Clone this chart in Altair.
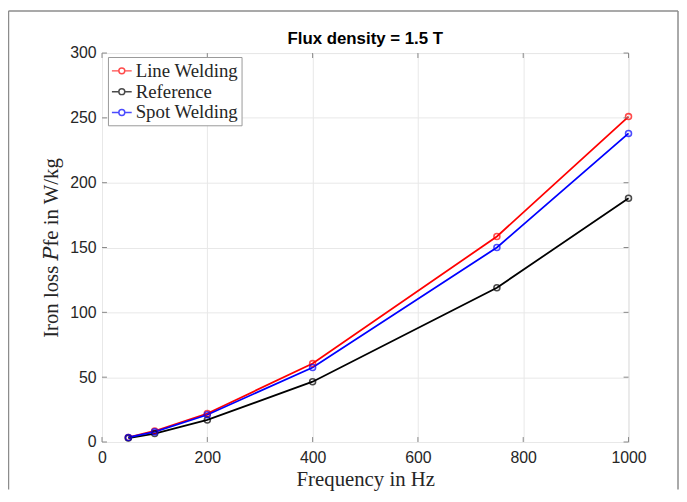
import altair as alt
import pandas as pd

freq = [50, 100, 200, 400, 750, 1000]
line_welding = [3.5, 8.5, 22, 60.5, 158.5, 251]
reference = [3, 6.5, 17, 46.5, 119, 188]
spot_welding = [3.5, 7.8, 21, 57.5, 150, 238]

series_names = ["Line Welding", "Reference", "Spot Welding"]
series_colors = ["#ff0000", "#000000", "#0000ff"]

x_ticks = [0, 200, 400, 600, 800, 1000]
y_ticks = [0, 50, 100, 150, 200, 250, 300]

title_text = ["Flux density = 1.5 T"]

rows = []
for name, vals in zip(series_names, [line_welding, reference, spot_welding]):
    for f, v in zip(freq, vals):
        rows.append({"f": f, "p": v, "s": name})
df = pd.DataFrame(rows)

W, H = 532, 393
SERIF = "Liberation Serif, DejaVu Serif, serif"
SANS = "Liberation Sans"
AXC = "#888888"
TXT = "#262626"

xs = alt.Scale(domain=[0, 1000], nice=False)
ys = alt.Scale(domain=[0, 300], nice=False)

legend = alt.Legend(
    title=None, orient="none", legendX=6, legendY=4,
    symbolType="M-1,0L-0.3,0M0.3,0L1,0M-0.3,0A0.3,0.3 0 1 1 0.3,0A0.3,0.3 0 1 1 -0.3,0",
    symbolSize=400, symbolStrokeWidth=1.5, symbolFillColor="transparent",
    labelFont=SERIF, labelFontSize=19, labelColor=TXT, labelLimit=300,
    strokeColor="#999999", fillColor="white", padding=3, rowPadding=0,
    symbolOffset=0, labelOffset=3,
)
color = alt.Color("s:N", scale=alt.Scale(domain=series_names, range=series_colors), legend=legend)

base = alt.Chart(df)

x_axis = alt.Axis(values=x_ticks, grid=True, gridColor="#e8e8e8", ticks=False,
                  domain=False, labelFont=SANS, labelFontSize=16, labelColor=TXT,
                  labelPadding=8, format="d", title="Frequency in Hz", titleFont=SERIF,
                  titleFontSize=21, titleFontWeight="normal", titleColor=TXT,
                  titlePadding=3, labelFlush=False)
y_axis = alt.Axis(values=y_ticks, grid=True, gridColor="#e8e8e8", ticks=False,
                  domain=False, labelFont=SANS, labelFontSize=16, labelColor=TXT,
                  labelPadding=6, format="d", title="Iron loss 𝑃fe in W/kg", titleFont=SERIF,
                  titleFontSize=21, titleFontWeight="normal", titleColor=TXT,
                  titlePadding=8, labelFlush=False)

lines = base.mark_line(strokeWidth=1.8).encode(
    x=alt.X("f:Q", scale=xs, axis=x_axis),
    y=alt.Y("p:Q", scale=ys, axis=y_axis),
    color=color,
)
points = base.mark_point(shape="circle", filled=False, size=36, strokeWidth=1.6).encode(
    x=alt.X("f:Q", scale=xs),
    y=alt.Y("p:Q", scale=ys),
    color=color,
)

xt = pd.DataFrame({"t": x_ticks})
yt = pd.DataFrame({"t": y_ticks})
tick_b = alt.Chart(xt).mark_rule(color=AXC, strokeWidth=1).encode(
    x=alt.X("t:Q", scale=xs), y=alt.value(H), y2=alt.value(H - 5))
tick_t = alt.Chart(xt).mark_rule(color=AXC, strokeWidth=1).encode(
    x=alt.X("t:Q", scale=xs), y=alt.value(0), y2=alt.value(5))
tick_l = alt.Chart(yt).mark_rule(color=AXC, strokeWidth=1).encode(
    y=alt.Y("t:Q", scale=ys), x=alt.value(0), x2=alt.value(5))
tick_r = alt.Chart(yt).mark_rule(color=AXC, strokeWidth=1).encode(
    y=alt.Y("t:Q", scale=ys), x=alt.value(W), x2=alt.value(W - 5))

frame_df = pd.DataFrame({"k": [0]})
fr = alt.Chart(frame_df)
frame_top = fr.mark_rule(color="#8c8c8c", strokeWidth=1.5).encode(
    x=alt.value(-94.5), x2=alt.value(582), y=alt.value(-42.5))
frame_left = fr.mark_rule(color="#8c8c8c", strokeWidth=1.5).encode(
    x=alt.value(-94.5), y=alt.value(-42.5), y2=alt.value(441))
frame_right = fr.mark_rule(color="#8c8c8c", strokeWidth=1.5).encode(
    x=alt.value(582), y=alt.value(-42.5), y2=alt.value(441))

title_mark = alt.Chart(pd.DataFrame({"t": title_text})).mark_text(
    font=SANS, fontSize=17, fontWeight="bold", color="#000000",
    align="center", baseline="alphabetic",
).encode(text="t:N", x=alt.value(W / 2), y=alt.value(-9))

chart = alt.layer(
    lines, points, tick_b, tick_t, tick_l, tick_r, frame_top, frame_left, frame_right,
    title_mark,
).properties(
    width=W, height=H,
    autosize=alt.AutoSizeParams(type="none"),
    padding={"left": 95, "top": 43, "right": 51, "bottom": 48},
).configure_view(
    stroke=AXC, strokeWidth=1
).configure(background="white")

chart.save("out.html", embed_options={"renderer": "svg", "actions": False})
